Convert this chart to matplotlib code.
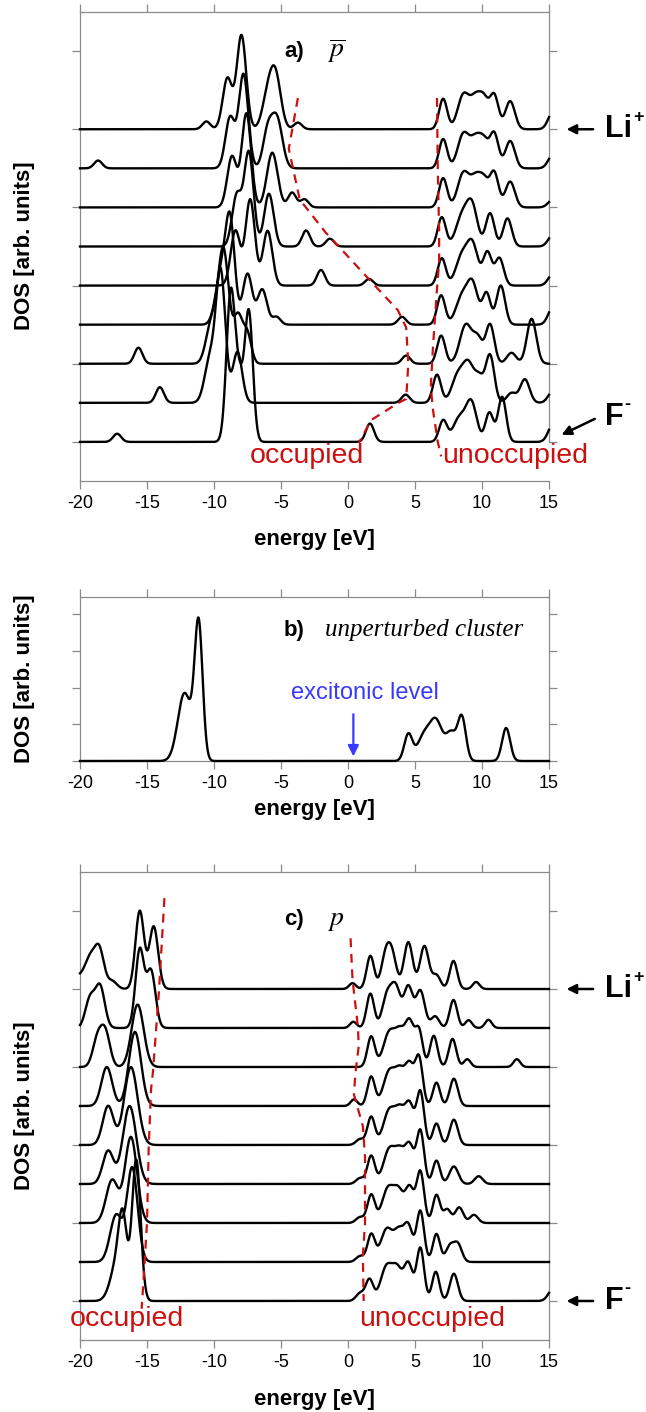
import numpy as np
import matplotlib.pyplot as plt

# energy grid (eV) on which the broadened DOS curves are drawn
E = np.linspace(-20, 15, 1751)

# peaks: (centre eV, height in baseline units, width eV)
# panel a, curve 0 = F- (bottom) ... curve 8 = Li+ (top)
a0_peaks = [(-17.23, 0.21, 0.3), (-8.75, 3.8, 0.32), (-8.1, 1.4, 0.3), (-7.4, 3.3, 0.3),
            (1.64, 0.47, 0.3), (7.1, 0.55, 0.3), (8.3, 0.6, 0.45), (9.2, 1.0, 0.4),
            (10.55, 0.75, 0.3), (11.5, 1.15, 0.3), (15.3, 0.45, 0.35)]
a1_peaks = [(-14.04, 0.4, 0.3), (-10.3, 1.1, 0.4), (-9.5, 3.3, 0.35), (-8.25, 1.3, 0.35),
            (4.3, 0.21, 0.3), (6.64, 0.72, 0.3), (8.2, 0.7, 0.45), (9.0, 0.9, 0.4),
            (9.8, 0.6, 0.35), (10.6, 1.2, 0.32), (12.2, 0.25, 0.35), (13.2, 0.6, 0.35),
            (15.3, 0.3, 0.35)]
a2_peaks = [(-15.64, 0.41, 0.3), (-10.2, 1.0, 0.4), (-9.3, 2.9, 0.4), (-8.2, 1.2, 0.35),
            (-7.5, 0.7, 0.3), (4.34, 0.21, 0.3), (6.95, 0.72, 0.3), (8.8, 1.0, 0.45),
            (9.7, 0.6, 0.35), (10.6, 1.0, 0.32), (12.2, 0.28, 0.35), (13.7, 1.15, 0.35)]
a3_peaks = [(-9.5, 1.2, 0.4), (-8.8, 2.6, 0.35), (-7.5, 1.3, 0.35), (-6.4, 0.9, 0.35),
            (-5.34, 0.2, 0.3), (4.03, 0.2, 0.3), (6.95, 0.75, 0.3), (8.5, 0.7, 0.45),
            (9.3, 1.0, 0.4), (10.34, 0.8, 0.3), (11.4, 1.0, 0.32), (15.3, 0.45, 0.35)]
a4_peaks = [(-8.4, 1.4, 0.35), (-7.3, 2.2, 0.35), (-6.0, 1.4, 0.35), (-2.02, 0.4, 0.3),
            (1.57, 0.17, 0.3), (7.0, 0.7, 0.3), (8.5, 0.75, 0.45), (9.3, 1.0, 0.4),
            (10.4, 0.85, 0.32), (11.3, 0.7, 0.32), (15.3, 0.3, 0.35)]
a5_peaks = [(-8.3, 1.3, 0.35), (-7.4, 2.4, 0.35), (-5.9, 1.35, 0.35), (-3.13, 0.41, 0.3),
            (-1.35, 0.2, 0.3), (7.0, 0.75, 0.3), (8.5, 0.75, 0.45), (9.26, 1.0, 0.4),
            (10.6, 0.85, 0.32), (11.9, 0.72, 0.32), (15.3, 0.3, 0.35)]
a6_peaks = [(-8.66, 1.3, 0.35), (-7.58, 2.4, 0.35), (-5.65, 1.4, 0.4), (-4.17, 0.38, 0.3),
            (-3.25, 0.21, 0.3), (7.1, 0.75, 0.3), (8.6, 0.85, 0.42), (9.6, 0.8, 0.45),
            (10.2, 0.4, 0.3), (10.9, 0.9, 0.33), (12.1, 0.66, 0.35), (15.3, 0.2, 0.35)]
a7_peaks = [(-18.65, 0.2, 0.3), (-8.8, 1.3, 0.35), (-7.8, 2.4, 0.35), (-6.0, 0.9, 0.35),
            (-5.3, 1.25, 0.4), (7.1, 0.75, 0.3), (8.6, 0.85, 0.42), (9.6, 0.8, 0.45),
            (10.2, 0.4, 0.3), (10.9, 0.9, 0.33), (12.1, 0.7, 0.35), (15.3, 0.35, 0.35)]
a8_peaks = [(-10.57, 0.2, 0.3), (-9.0, 1.3, 0.35), (-7.95, 2.4, 0.35), (-6.0, 0.8, 0.4),
            (-5.4, 1.3, 0.4), (-3.74, 0.17, 0.3), (7.1, 0.78, 0.3), (8.6, 0.85, 0.42),
            (9.6, 0.85, 0.45), (10.2, 0.45, 0.3), (10.9, 0.88, 0.33), (12.1, 0.72, 0.35),
            (15.3, 0.45, 0.35)]
a_curves = [a0_peaks, a1_peaks, a2_peaks, a3_peaks, a4_peaks, a5_peaks, a6_peaks, a7_peaks, a8_peaks]

# panel b, unperturbed cluster
b_peaks = [(-12.2, 1.85, 0.5), (-11.15, 3.7, 0.3), (4.5, 0.72, 0.3), (5.7, 0.7, 0.5),
           (6.6, 1.0, 0.45), (7.7, 0.75, 0.4), (8.5, 1.15, 0.3), (11.8, 0.9, 0.3)]

# panel c
c0_peaks = [(-17.2, 1.0, 0.5), (-16.8, 1.6, 0.3), (-15.8, 3.6, 0.32), (0.9, 0.2, 0.3),
            (1.6, 0.55, 0.28), (2.9, 0.9, 0.45), (3.7, 0.7, 0.35), (4.5, 0.95, 0.33),
            (5.4, 1.35, 0.28), (6.55, 0.75, 0.27), (7.9, 0.7, 0.3), (15.3, 0.3, 0.35)]
c1_peaks = [(-17.3, 1.2, 0.45), (-16.1, 2.4, 0.4), (0.9, 0.15, 0.3), (1.73, 0.7, 0.28),
            (2.9, 0.85, 0.45), (3.8, 0.7, 0.35), (4.5, 0.9, 0.33), (5.4, 1.3, 0.28),
            (6.6, 0.72, 0.27), (7.6, 0.4, 0.3), (8.2, 0.45, 0.3)]
c2_peaks = [(-17.6, 1.1, 0.45), (-16.2, 2.2, 0.45), (0.9, 0.15, 0.3), (1.73, 0.72, 0.28),
            (3.0, 0.9, 0.45), (3.8, 0.7, 0.35), (4.6, 0.9, 0.33), (5.4, 1.3, 0.28),
            (6.6, 0.72, 0.27), (7.4, 0.35, 0.28), (8.3, 0.4, 0.3), (9.4, 0.21, 0.3)]
c3_peaks = [(-17.9, 0.85, 0.4), (-16.3, 2.0, 0.5), (0.9, 0.15, 0.3), (1.73, 0.72, 0.28),
            (3.1, 0.9, 0.45), (3.9, 0.7, 0.35), (4.6, 0.95, 0.33), (5.4, 1.35, 0.28),
            (6.6, 0.6, 0.27), (7.9, 0.45, 0.33), (9.75, 0.2, 0.3)]
c4_peaks = [(-17.9, 1.0, 0.4), (-16.2, 2.0, 0.5), (0.9, 0.15, 0.3), (1.73, 0.72, 0.28),
            (3.1, 0.9, 0.45), (3.9, 0.75, 0.35), (4.6, 1.0, 0.33), (5.4, 1.35, 0.28),
            (6.6, 0.55, 0.27), (7.9, 0.65, 0.3)]
c5_peaks = [(-18.0, 1.0, 0.4), (-15.9, 1.9, 0.45), (0.45, 0.17, 0.25), (1.73, 0.75, 0.28),
            (3.1, 0.9, 0.45), (3.9, 0.75, 0.35), (4.6, 1.0, 0.33), (5.3, 1.2, 0.28),
            (6.6, 0.6, 0.27), (7.9, 0.7, 0.3)]
c6_peaks = [(-18.7, 0.7, 0.35), (-18.1, 0.85, 0.35), (-15.7, 1.6, 0.45), (1.73, 0.78, 0.28),
            (3.1, 0.9, 0.45), (3.9, 0.75, 0.35), (4.6, 1.1, 0.33), (5.3, 0.9, 0.28),
            (6.4, 0.8, 0.28), (7.8, 0.72, 0.28), (8.9, 0.2, 0.25), (12.6, 0.2, 0.25)]
c7_peaks = [(-19.25, 0.75, 0.35), (-18.5, 1.05, 0.35), (-15.54, 2.0, 0.32), (-14.7, 1.45, 0.33),
            (0.4, 0.16, 0.25), (1.67, 0.88, 0.28), (2.9, 0.8, 0.35), (3.57, 1.0, 0.35),
            (4.5, 1.05, 0.33), (5.4, 0.95, 0.33), (6.5, 0.3, 0.3), (7.87, 0.72, 0.28),
            (9.0, 0.2, 0.25), (10.48, 0.21, 0.25)]
c8_peaks = [(-20.2, 0.3, 0.45), (-19.25, 0.75, 0.4), (-18.55, 0.95, 0.35), (-17.6, 0.2, 0.35),
            (-15.54, 2.0, 0.32), (-14.5, 1.6, 0.33), (0.34, 0.15, 0.25), (1.67, 0.85, 0.28),
            (2.8, 0.8, 0.33), (3.3, 0.8, 0.33), (4.5, 1.2, 0.33), (5.7, 1.1, 0.33),
            (6.6, 0.35, 0.3), (7.87, 0.72, 0.28), (9.56, 0.18, 0.25)]
c_curves = [c0_peaks, c1_peaks, c2_peaks, c3_peaks, c4_peaks, c5_peaks, c6_peaks, c7_peaks, c8_peaks]

# red dashed guide lines (energy, curve-offset units)
a_occ_E = [-3.74, -4.42, -3.6, -1.65, -0.42, 1.73, 3.72, 4.34, 4.5, 4.34, 3.72, 1.73, 0.8]
a_occ_y = [8.8, 7.5, 6.2, 5.35, 4.9, 4.1, 3.37, 2.93, 2.0, 1.1, 0.99, 0.56, -0.03]
a_unocc_E = [6.64, 6.7, 6.8, 6.8, 6.65, 6.34, 6.18, 6.34, 6.7, 6.95]
a_unocc_y = [8.8, 7.0, 5.4, 4.6, 3.96, 2.43, 1.4, 0.82, 0.0, -0.37]
c_occ_E = [-13.7, -14.1, -14.56, -14.7, -14.87, -15.0, -15.27, -15.4]
c_occ_y = [10.33, 7.98, 5.86, 5.42, 3.97, 2.0, 0.48, -0.2]
c_unocc_E = [0.19, 0.34, 0.74, 0.8, 0.56, 0.44, 1.11, 1.27, 1.27, 1.11, 1.17]
c_unocc_y = [9.3, 8.23, 7.04, 6.53, 5.86, 5.3, 4.48, 3.7, 2.0, 1.15, 0.0]

x_ticks = [-20, -15, -10, -5, 0, 5, 10, 15]
exciton_E = 0.4

RED = "#cc1010"
BLUE = "#3a3aff"
SPINE = "#8a8a8a"
SANS = ["Liberation Sans", "DejaVu Sans"]

plt.rcParams["font.family"] = SANS

fig = plt.figure(figsize=(6.46, 14.12), dpi=100)
W, H = 646.0, 1412.0


def make_ax(top_px, bottom_px):
    ax = fig.add_axes([80 / W, 1 - bottom_px / H, 469 / W, (bottom_px - top_px) / H])
    ax.set_xlim(-20, 15)
    ax.set_xticks(x_ticks)
    ax.set_xticklabels([str(t) for t in x_ticks])
    for s in ax.spines.values():
        s.set_color(SPINE)
        s.set_linewidth(0.9)
    ax.tick_params(axis="both", direction="out", length=5.8, width=0.9, color=SPINE,
                   top=True, right=True, labelsize=13, pad=4)
    ax.tick_params(axis="y", labelleft=False)
    return ax


def dos(peaks):
    y = np.zeros_like(E)
    for c, h, w in peaks:
        y += h * np.exp(-0.5 * ((E - c) / w) ** 2)
    return y


def stacked(ax, curves):
    for i, peaks in enumerate(curves):
        ax.plot(E, dos(peaks) + i, color="black", lw=1.7, solid_joinstyle="round",
                clip_on=False, zorder=3)


def side_labels(ax, li_y, f_y, f_diag):
    kw = dict(arrowprops=dict(arrowstyle="-|>", color="black", lw=1.8, mutation_scale=14),
              annotation_clip=False)
    ax.annotate("", xy=(16.1, li_y), xytext=(18.5, li_y), **kw)
    ax.text(19.2, li_y, "Li", fontsize=22, fontweight="bold", va="center", ha="left", clip_on=False)
    ax.text(21.3, li_y + 0.3, "+", fontsize=13, fontweight="bold", va="center", ha="left", clip_on=False)
    if f_diag:
        ax.annotate("", xy=(15.75, f_y + 0.15), xytext=(18.6, f_y + 0.62), **kw)
        fy = f_y + 0.64
    else:
        ax.annotate("", xy=(16.1, f_y), xytext=(18.5, f_y), **kw)
        fy = f_y
    ax.text(19.2, fy, "F", fontsize=22, fontweight="bold", va="center", ha="left", clip_on=False)
    ax.text(20.6, fy + 0.32, "-", fontsize=13, fontweight="bold", va="center", ha="left", clip_on=False)


# ---- panel a
ax_a = make_ax(12, 481)
ax_a.set_ylim(-1, 11)
ax_a.set_yticks([0, 2, 4, 6, 8, 10])
ax_a.spines["right"].set_bounds(0, 11)
stacked(ax_a, a_curves)
ax_a.plot(a_occ_E, a_occ_y, color=RED, lw=1.6, ls=(0, (4, 3)), zorder=4)
ax_a.plot(a_unocc_E, a_unocc_y, color=RED, lw=1.6, ls=(0, (4, 3)), zorder=4)
ax_a.text(-4.78, 10.0, "a)", fontsize=16, fontweight="bold", va="center")
ax_a.text(-1.6, 10.0, r"$\overline{p}$", fontsize=20, math_fontfamily="stix", va="center")
ax_a.text(-7.3, -0.35, "occupied", color=RED, fontsize=20.5, va="center")
ax_a.text(7.0, -0.35, "unoccupied", color=RED, fontsize=20.5, va="center")
side_labels(ax_a, 8, 0, True)

# ---- panel b
ax_b = make_ax(597, 761)
ax_b.set_ylim(0, 4.47)
ax_b.set_yticks([0, 1, 2, 3, 4])
ax_b.plot(E, dos(b_peaks), color="black", lw=1.7, zorder=3, clip_on=False)
ax_b.text(-4.78, 3.57, "b)", fontsize=16, fontweight="bold", va="center")
ax_b.text(-1.7, 3.57, "unperturbed cluster", fontsize=18, style="italic",
          family=["Liberation Serif", "DejaVu Serif"], va="center")
ax_b.text(1.3, 1.85, "excitonic level", color=BLUE, fontsize=17, ha="center", va="center")
ax_b.annotate("", xy=(exciton_E, 0.05), xytext=(exciton_E, 1.35),
              arrowprops=dict(arrowstyle="-|>", color=BLUE, lw=1.6, mutation_scale=16))

# ---- panel c
ax_c = make_ax(872, 1340)
ax_c.set_ylim(-1, 11)
ax_c.set_yticks([0, 2, 4, 6, 8, 10])
stacked(ax_c, c_curves)
ax_c.plot(c_occ_E, c_occ_y, color=RED, lw=1.6, ls=(0, (4, 3)), zorder=4)
ax_c.plot(c_unocc_E, c_unocc_y, color=RED, lw=1.6, ls=(0, (4, 3)), zorder=4)
ax_c.text(-4.78, 9.77, "c)", fontsize=16, fontweight="bold", va="center")
ax_c.text(-1.6, 9.77, r"$p$", fontsize=20, math_fontfamily="stix", va="center")
ax_c.text(-20.8, -0.45, "occupied", color=RED, fontsize=20.5, va="center", clip_on=False)
ax_c.text(0.85, -0.45, "unoccupied", color=RED, fontsize=20.5, va="center")
side_labels(ax_c, 8, 0, False)

# axis titles
for yc, ylab in [(246, 540), (679, 810), (1106, 1400)]:
    fig.text(25 / W, 1 - yc / H, "DOS [arb. units]", rotation=90, fontsize=16,
             fontweight="bold", ha="center", va="center")
    fig.text(314 / W, 1 - ylab / H, "energy [eV]", fontsize=16, fontweight="bold",
             ha="center", va="center")

fig.savefig("out.png", dpi=100)
